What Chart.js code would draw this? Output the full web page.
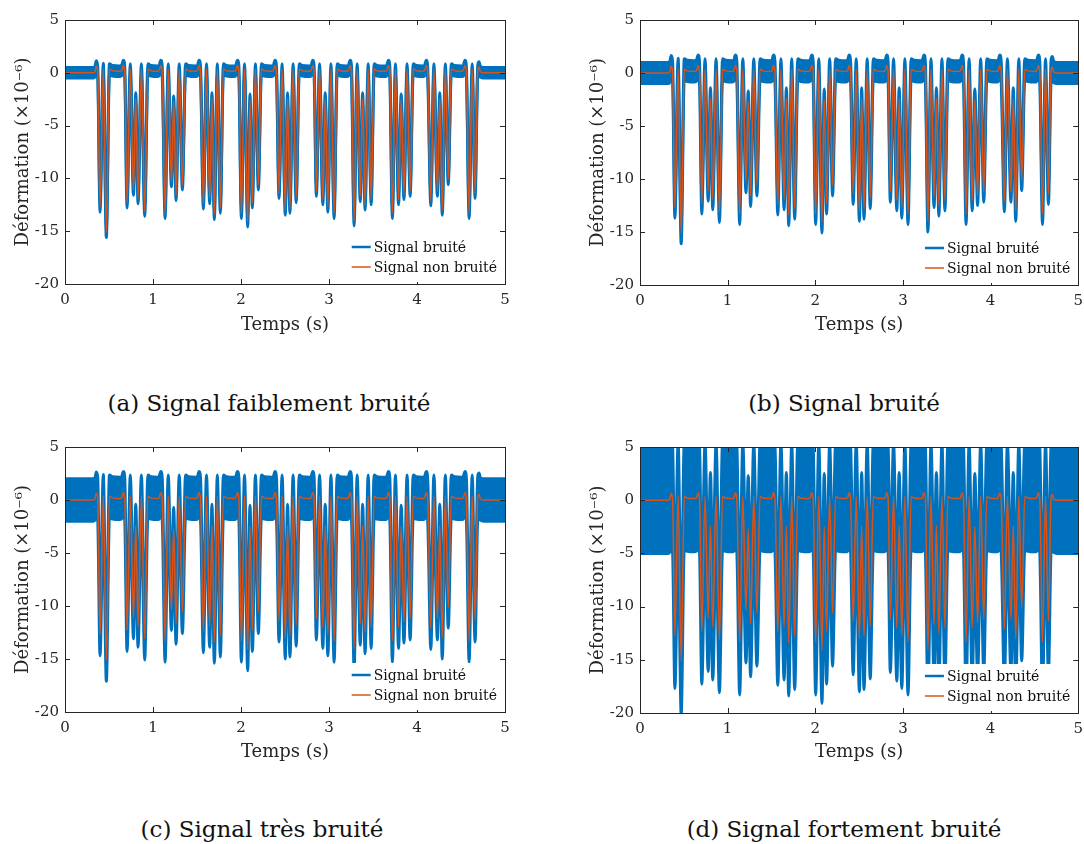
<!DOCTYPE html>
<html>
<head>
<meta charset="utf-8">
<script src="https://cdn.jsdelivr.net/npm/chart.js@4.4.1/dist/chart.umd.min.js"></script>
<style>
  body { margin: 0; background: #fff; width: 1084px; height: 844px; position: relative; overflow: hidden; }
  canvas { position: absolute; }
  .legende { position: absolute; font-family: "DejaVu Serif", serif; font-size: 23px; color: #111; white-space: nowrap; transform: translateX(-50%); }
</style>
</head>
<body>
<canvas id="g1" width="540" height="345" style="left:0;top:0"></canvas>
<canvas id="g2" width="515" height="345" style="left:575px;top:0"></canvas>
<canvas id="g3" width="540" height="345" style="left:0;top:427px"></canvas>
<canvas id="g4" width="515" height="345" style="left:575px;top:427px"></canvas>
<div class="legende" style="left:269px;top:390px">(a) Signal faiblement bruité</div>
<div class="legende" style="left:844px;top:390px">(b) Signal bruité</div>
<div class="legende" style="left:262px;top:816px">(c) Signal très bruité</div>
<div class="legende" style="left:844px;top:816px">(d) Signal fortement bruité</div>
<script>
// temps (s) et signal non bruité (x1e-6)
let temps = [
  0.000, 0.320, 0.340, 0.356, 0.372, 0.398, 0.435, 0.470, 0.505, 0.540,
  0.625, 0.646, 0.663, 0.679, 0.705, 0.742, 0.778, 0.804, 0.830, 0.868, 0.906, 0.942, 0.975,
  1.055, 1.072, 1.088, 1.105, 1.137, 1.173, 1.209, 1.235, 1.262, 1.298, 1.334, 1.370, 1.405,
  1.488, 1.507, 1.523, 1.540, 1.572, 1.608, 1.644, 1.670, 1.697, 1.731, 1.765, 1.800, 1.835,
  1.925, 1.943, 1.959, 1.976, 2.004, 2.040, 2.076, 2.102, 2.129, 2.164, 2.197, 2.232, 2.265,
  2.352, 2.370, 2.386, 2.403, 2.432, 2.467, 2.503, 2.529, 2.556, 2.592, 2.627, 2.662, 2.695,
  2.780, 2.799, 2.815, 2.831, 2.856, 2.893, 2.930, 2.957, 2.987, 3.022, 3.058, 3.093, 3.125,
  3.205, 3.223, 3.240, 3.256, 3.285, 3.320, 3.355, 3.382, 3.410, 3.445, 3.479, 3.513, 3.545,
  3.640, 3.658, 3.675, 3.691, 3.720, 3.755, 3.790, 3.820, 3.852, 3.887, 3.922, 3.957, 3.990,
  4.070, 4.088, 4.105, 4.121, 4.157, 4.192, 4.232, 4.259, 4.287, 4.322, 4.355, 4.390, 4.425,
  4.510, 4.528, 4.545, 4.561, 4.592, 4.627, 4.660, 4.690, 4.705, 4.720, 4.760, 5.000
];
let signalNonBruite = [
  0, 0, 0.1, 0.65, 0.1, -12.7, 0.4, -15.1, 0.35, 0.2,
  0.15, 0.25, 0.7, 0.1, -12.3, 0.35, -11.1, -2.4, -11.9, 0.35, -13.1, 0.35, 0.2,
  0.15, 0.25, 0.7, 0.1, -13.3, 0.35, -10.3, -2.7, -11.6, 0.35, -10.6, 0.35, 0.2,
  0.15, 0.25, 0.7, 0.1, -12.4, 0.35, -11.9, -2.4, -13.4, 0.35, -12.8, 0.35, 0.2,
  0.15, 0.25, 0.7, 0.1, -13.3, 0.35, -14.1, -2.5, -12.3, 0.35, -10.6, 0.35, 0.2,
  0.15, 0.25, 0.7, 0.1, -11.4, 0.35, -13.0, -2.4, -12.8, 0.35, -11.8, 0.35, 0.2,
  0.15, 0.25, 0.7, 0.1, -11.2, 0.35, -12.0, -2.4, -12.7, 0.35, -13.3, 0.35, 0.2,
  0.15, 0.25, 0.7, 0.1, -14.0, 0.35, -11.7, -2.4, -12.5, 0.35, -12.0, 0.35, 0.2,
  0.15, 0.25, 0.7, 0.1, -13.3, 0.35, -12.0, -2.5, -11.5, 0.35, -11.2, 0.35, 0.2,
  0.15, 0.25, 0.7, 0.1, -12.1, 0.35, -11.2, -2.4, -13.0, 0.35, -10.1, 0.35, 0.2,
  0.15, 0.25, 0.7, 0.1, -13.3, 0.35, -11.4, 0.2, 0.55, 0.1, 0, 0
];
// demi-largeur de la bande de bruit lue sur chaque figure (x1e-6)
let amplitudeBruit = [0.5, 1.0, 2.0, 5.0];
let ticksY = [-20, -15, -10, -5, 0, 5];
let ticksX = [0, 1, 2, 3, 4, 5];
let nomsSeries = ['Signal bruité', 'Signal non bruité'];

const bleu = '#0072BD';
const orange = '#D95319';
const police = '"DejaVu Serif", serif';

// cadre, graduations intérieures et légende (style matlab)
const cadre = {
  id: 'cadre',
  afterDraw(chart) {
    const { ctx, chartArea: a, scales: { x, y } } = chart;
    ctx.save();
    ctx.strokeStyle = '#262626';
    ctx.lineWidth = 1;
    let trait = (x1, y1, x2, y2) => { ctx.beginPath(); ctx.moveTo(x1, y1); ctx.lineTo(x2, y2); ctx.stroke(); };
    ticksX.forEach(v => {
      let px = Math.round(x.getPixelForValue(v)) + 0.5;
      trait(px, a.bottom, px, a.bottom - 5);
      trait(px, a.top, px, a.top + 5);
    });
    ticksY.forEach(v => {
      let py = Math.round(y.getPixelForValue(v)) + 0.5;
      trait(a.left, py, a.left + 5, py);
      trait(a.right, py, a.right - 5, py);
    });
    ctx.strokeRect(Math.round(a.left) + 0.5, Math.round(a.top) + 0.5, Math.round(a.right - a.left), Math.round(a.bottom - a.top));

    // légende en bas à droite
    ctx.font = '14px ' + police;
    let largeur = Math.max(...nomsSeries.map(n => ctx.measureText(n).width));
    let xt = a.right - 8 - largeur;
    let lignes = [a.bottom - 37, a.bottom - 17];
    ctx.fillStyle = '#fff';
    ctx.fillRect(xt - 24, lignes[0] - 12, a.right - 2 - (xt - 24), a.bottom - 2 - (lignes[0] - 12));
    ctx.fillStyle = '#111';
    ctx.textBaseline = 'middle';
    nomsSeries.forEach((n, i) => {
      ctx.strokeStyle = i == 0 ? bleu : orange;
      ctx.lineWidth = i == 0 ? 2.5 : 1.5;
      trait(xt - 22, lignes[i], xt - 3, lignes[i]);
      ctx.fillText(n, xt, lignes[i] + 1);
    });
    ctx.restore();
  }
};

let dessinerFigure = (id, amplitude, droite, bas) => {
  let propre = temps.map((t, i) => ({ x: t, y: signalNonBruite[i] }));
  let haut = temps.map((t, i) => ({ x: t, y: signalNonBruite[i] + amplitude }));
  let basBruit = temps.map((t, i) => ({ x: t, y: signalNonBruite[i] - amplitude }));
  new Chart(document.getElementById(id), {
    type: 'line',
    data: {
      // le premier jeu est dessiné au-dessus des autres
      datasets: [
        { data: propre, borderColor: orange, borderWidth: 1.5, pointRadius: 0, fill: false, cubicInterpolationMode: 'monotone' },
        { data: haut, borderColor: bleu, borderWidth: 3, pointRadius: 0, fill: false, cubicInterpolationMode: 'monotone' },
        { data: basBruit, borderColor: bleu, backgroundColor: bleu, borderWidth: 3, pointRadius: 0, fill: '-1', cubicInterpolationMode: 'monotone' }
      ]
    },
    options: {
      responsive: false,
      animation: false,
      layout: { padding: { left: 0, top: 20, right: droite, bottom: 0 } },
      plugins: { legend: { display: false }, tooltip: { enabled: false } },
      scales: {
        x: {
          type: 'linear', min: 0, max: 5,
          afterBuildTicks: s => { s.ticks = ticksX.map(v => ({ value: v })); },
          afterFit: s => { s.height = bas; },
          grid: { display: false, drawTicks: false },
          border: { display: false },
          ticks: { color: '#262626', font: { family: police, size: 15 }, padding: 7, maxRotation: 0 },
          title: { display: true, text: 'Temps (s)', color: '#262626', font: { family: police, size: 18 }, padding: { top: 0, bottom: 9 } }
        },
        y: {
          type: 'linear', min: -20, max: 5,
          afterBuildTicks: s => { s.ticks = ticksY.map(v => ({ value: v })); },
          afterFit: s => { s.width = 65; },
          grid: { display: false, drawTicks: false },
          border: { display: false },
          ticks: { color: '#262626', font: { family: police, size: 15 }, padding: 6 },
          title: { display: true, text: 'Déformation (×10⁻⁶)', color: '#262626', font: { family: police, size: 18 }, padding: { top: 13, bottom: 0 } }
        }
      }
    },
    plugins: [cadre]
  });
};

dessinerFigure('g1', amplitudeBruit[0], 35, 61);
dessinerFigure('g2', amplitudeBruit[1], 6, 60);
dessinerFigure('g3', amplitudeBruit[2], 35, 60);
dessinerFigure('g4', amplitudeBruit[3], 6, 59);
</script>
</body>
</html>
